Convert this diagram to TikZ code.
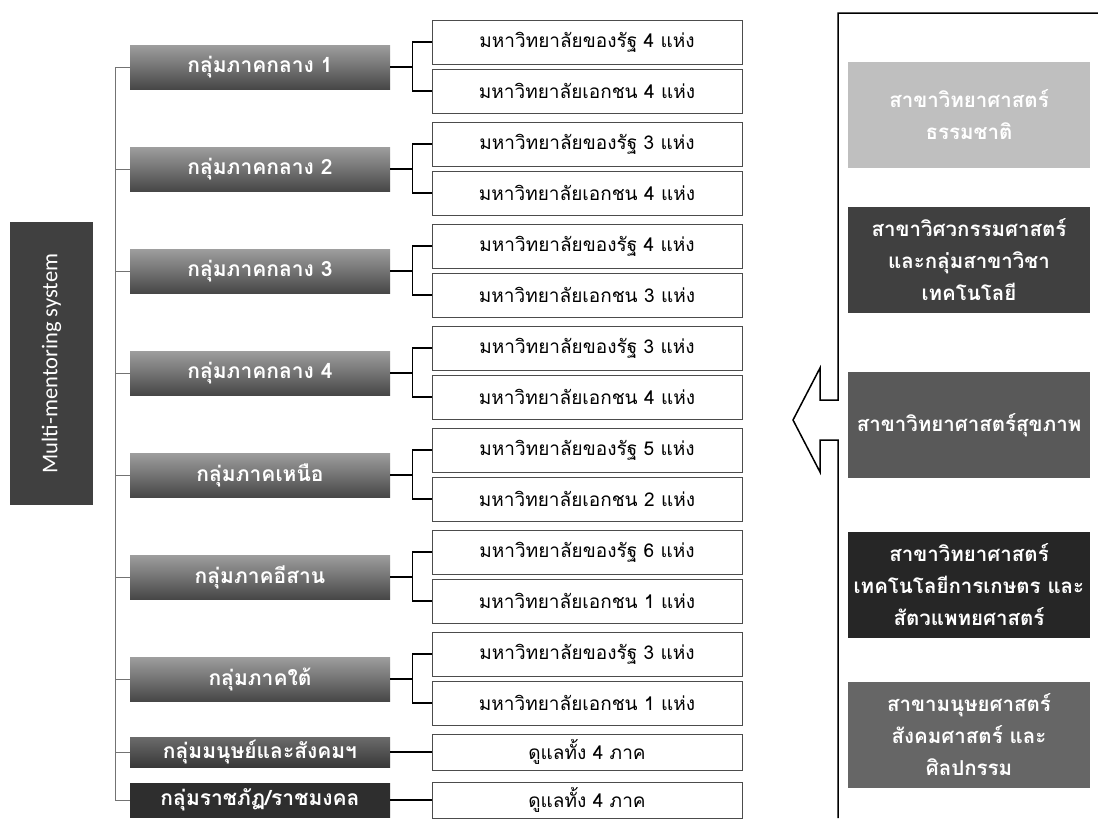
\documentclass[tikz,border=0pt]{standalone}
\usepackage{fontspec}
\newfontfamily\thaifont[Script=Thai]{Loma}
\newfontfamily\titlefont{Carlito}
\usetikzlibrary{positioning}

\newcommand*{\trunkx}{115}
\newcommand*{\unix}{587}
\newcommand*{\groupx}{260}
\newcommand*{\fieldx}{969}

\begin{document}
\begin{tikzpicture}
[
	x=1pt, y=-1pt,
	titlebox/.style={fill=black!75,text=white,rotate=90,minimum width=283pt,minimum height=83pt,inner sep=0pt,font=\titlefont\fontsize{22.5}{24}\selectfont},
	groupbox/.style={top color=black!38,bottom color=black!72,text=white,minimum width=260pt,minimum height=44pt,inner sep=0pt,font=\thaifont\bfseries\fontsize{21}{24}\selectfont},
	unibox/.style={draw=black!70,line width=0.8pt,fill=white,minimum width=310pt,minimum height=44pt,inner sep=0pt,font=\thaifont\fontsize{19}{22}\selectfont},
	fieldbox/.style={text=white,minimum width=242pt,minimum height=106pt,text width=242pt,align=center,inner sep=0pt,font=\thaifont\bfseries\fontsize{20.5}{32}\selectfont},
	trunkline/.style={draw=black!55,line width=0.7pt},
	bracket/.style={draw=black,line width=1.1pt}
]
	\useasboundingbox (0,0) rectangle (1098,827);

	% title
	\node[titlebox] (title) at (51.5,363.5) {Multi-mentoring system};

	% groups
	\node[groupbox] (g1) at (\groupx,67) {กลุ่มภาคกลาง 1};
	\node[groupbox] (g2) at (\groupx,169) {กลุ่มภาคกลาง 2};
	\node[groupbox] (g3) at (\groupx,271) {กลุ่มภาคกลาง 3};
	\node[groupbox] (g4) at (\groupx,373) {กลุ่มภาคกลาง 4};
	\node[groupbox] (g5) at (\groupx,475) {กลุ่มภาคเหนือ};
	\node[groupbox] (g6) at (\groupx,577) {กลุ่มภาคอีสาน};
	\node[groupbox] (g7) at (\groupx,679) {กลุ่มภาคใต้};
	\node[groupbox,minimum height=30pt,top color=black!58,bottom color=black!78] (g8) at (\groupx,752) {กลุ่มมนุษย์และสังคมฯ};
	\node[groupbox,minimum height=34pt,top color=black!82,bottom color=black!82] (g9) at (\groupx,800) {กลุ่มราชภัฏ/ราชมงคล};

	% universities
	\node[unibox] (u1a) at (\unix,42) {มหาวิทยาลัยของรัฐ 4 แห่ง};
	\node[unibox] (u1b) at (\unix,91) {มหาวิทยาลัยเอกชน 4 แห่ง};
	\node[unibox] (u2a) at (\unix,144) {มหาวิทยาลัยของรัฐ 3 แห่ง};
	\node[unibox] (u2b) at (\unix,193) {มหาวิทยาลัยเอกชน 4 แห่ง};
	\node[unibox] (u3a) at (\unix,246) {มหาวิทยาลัยของรัฐ 4 แห่ง};
	\node[unibox] (u3b) at (\unix,295) {มหาวิทยาลัยเอกชน 3 แห่ง};
	\node[unibox] (u4a) at (\unix,348) {มหาวิทยาลัยของรัฐ 3 แห่ง};
	\node[unibox] (u4b) at (\unix,397) {มหาวิทยาลัยเอกชน 4 แห่ง};
	\node[unibox] (u5a) at (\unix,450) {มหาวิทยาลัยของรัฐ 5 แห่ง};
	\node[unibox] (u5b) at (\unix,499) {มหาวิทยาลัยเอกชน 2 แห่ง};
	\node[unibox] (u6a) at (\unix,552) {มหาวิทยาลัยของรัฐ 6 แห่ง};
	\node[unibox] (u6b) at (\unix,601) {มหาวิทยาลัยเอกชน 1 แห่ง};
	\node[unibox] (u7a) at (\unix,654) {มหาวิทยาลัยของรัฐ 3 แห่ง};
	\node[unibox] (u7b) at (\unix,703) {มหาวิทยาลัยเอกชน 1 แห่ง};
	\node[unibox,minimum height=36pt] (u8) at (\unix,752) {ดูแลทั้ง 4 ภาค};
	\node[unibox,minimum height=36pt] (u9) at (\unix,800) {ดูแลทั้ง 4 ภาค};

	% trunk from the groups
	\coordinate (trunk) at (\trunkx,0);
	\draw[trunkline] (g1.west -| trunk) -- (g9.west -| trunk);
	\draw[trunkline] (g1.west) -- (g1.west -| trunk);
	\draw[trunkline] (g2.west) -- (g2.west -| trunk);
	\draw[trunkline] (g3.west) -- (g3.west -| trunk);
	\draw[trunkline] (g4.west) -- (g4.west -| trunk);
	\draw[trunkline] (g5.west) -- (g5.west -| trunk);
	\draw[trunkline] (g6.west) -- (g6.west -| trunk);
	\draw[trunkline] (g7.west) -- (g7.west -| trunk);
	\draw[trunkline] (g8.west) -- (g8.west -| trunk);
	\draw[trunkline] (g9.west) -- (g9.west -| trunk);

	% brackets to the universities
	\draw[bracket] (g1.east) -- ++(22,0) coordinate (b1);
	\draw[bracket] (u1a.west) -| (b1) |- (u1b.west);
	\draw[bracket] (g2.east) -- ++(22,0) coordinate (b2);
	\draw[bracket] (u2a.west) -| (b2) |- (u2b.west);
	\draw[bracket] (g3.east) -- ++(22,0) coordinate (b3);
	\draw[bracket] (u3a.west) -| (b3) |- (u3b.west);
	\draw[bracket] (g4.east) -- ++(22,0) coordinate (b4);
	\draw[bracket] (u4a.west) -| (b4) |- (u4b.west);
	\draw[bracket] (g5.east) -- ++(22,0) coordinate (b5);
	\draw[bracket] (u5a.west) -| (b5) |- (u5b.west);
	\draw[bracket] (g6.east) -- ++(22,0) coordinate (b6);
	\draw[bracket] (u6a.west) -| (b6) |- (u6b.west);
	\draw[bracket] (g7.east) -- ++(22,0) coordinate (b7);
	\draw[bracket] (u7a.west) -| (b7) |- (u7b.west);
	\draw[bracket] (g8.east) -- (u8.west);
	\draw[bracket] (g9.east) -- (u9.west);

	% fields of study
	\node[fieldbox,fill=black!25] (f1) at (\fieldx,115) {สาขาวิทยาศาสตร์\\ธรรมชาติ};
	\node[fieldbox,fill=black!75] (f2) at (\fieldx,260) {สาขาวิศวกรรมศาสตร์\\และกลุ่มสาขาวิชา\\เทคโนโลยี};
	\node[fieldbox,fill=black!65] (f3) at (\fieldx,425) {สาขาวิทยาศาสตร์สุขภาพ};
	\node[fieldbox,fill=black!85] (f4) at (\fieldx,585) {สาขาวิทยาศาสตร์\\เทคโนโลยีการเกษตร และ\\สัตวแพทยศาสตร์};
	\node[fieldbox,fill=black!60] (f5) at (\fieldx,735) {สาขามนุษยศาสตร์\\สังคมศาสตร์ และ\\ศิลปกรรม};

	% frame with arrow
	\draw[line width=1.5pt,line join=miter] (1098,13) -- (838,13) -- (838,400) -- (820,400) -- (820,368)
		-- (793,420) -- (820,472) -- (820,440) -- (838,440) -- (838,818);

\end{tikzpicture}
\end{document}
